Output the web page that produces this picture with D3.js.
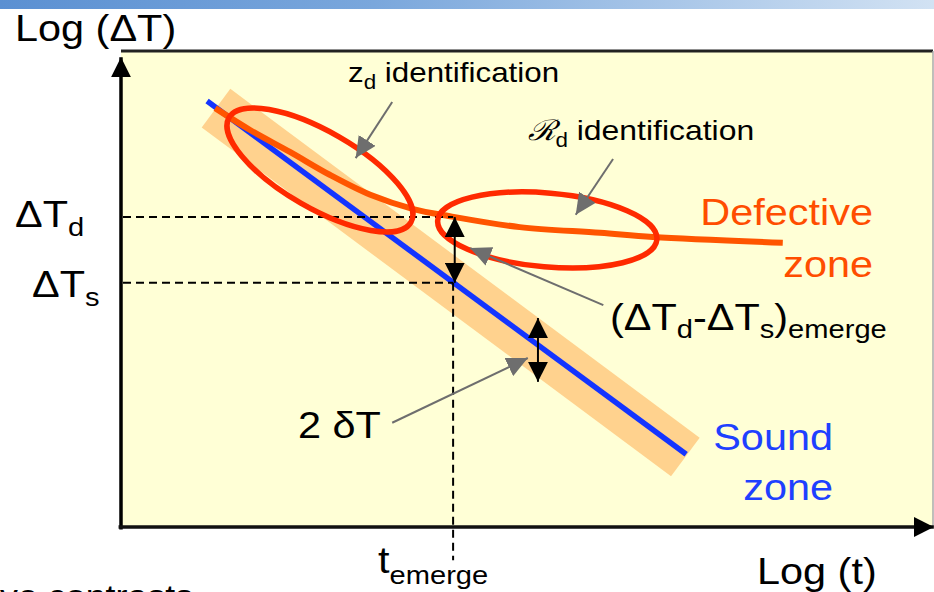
<!DOCTYPE html>
<html lang="en">
<head>
<meta charset="UTF-8">
<title>Emergence time diagram</title>
<style>
  body { margin: 0; background: #fff; }
  svg { display: block; font-family: "Liberation Sans", Arial, sans-serif; }
</style>
</head>
<body>
<div id="chart"></div>
<script src="https://d3js.org/d3.v7.min.js"></script>
<script>
// chart units: x = log(t), y = log(ΔT), arbitrary 0..10 on both
const soundLine = [[1.06, 8.95], [6.96, 1.53]];
const toleranceBand = [[1.17, 8.80], [6.95, 1.47]];
const defectCurve = [
  [1.16, 8.80], [1.59, 8.34], [2.08, 7.88], [2.57, 7.40], [3.07, 6.98], [3.60, 6.68],
  [4.05, 6.53], [4.91, 6.30], [5.90, 6.18], [6.55, 6.09], [8.15, 5.97]
];
// identification ellipses: centre, end of major axis, minor/major ratio
const ellipseCentres = [[2.45, 7.50], [5.25, 6.24]];
const ellipseEnds = [[3.57, 6.40], [6.60, 6.04]];
const ellipseRatios = [0.365, 0.336];
const levelValues = [6.51, 5.13];   // ΔT_d, ΔT_s
const tEmerge = 4.09;
const bandArrow = [[5.135, 4.39], [5.135, 3.05]];
// grey callouts: [from, to]
const callouts = [
  [[3.34, 8.93], [2.89, 7.75]],
  [[6.06, 7.73], [5.60, 6.56]],
  [[5.94, 4.66], [4.30, 5.86]],
  [[3.34, 2.19], [5.01, 3.55]]
];
const labelTexts = [
  "Log (ΔT)", "ΔT_{d}", "ΔT_{s}", "z_{d} identification", "ℛ_{d} identification",
  "Defective", "zone", "(ΔT_{d}-ΔT_{s})_{emerge}", "2 δT", "Sound", "zone",
  "t_{emerge}", "Log (t)", "ve contrasts"
];

const width = 934, height = 592;
const x = d3.scaleLinear().domain([0, 10]).range([121, 933]);
const y = d3.scaleLinear().domain([0, 10]).range([527, 51]);
const line = d3.line().x(d => x(d[0])).y(d => y(d[1]));

const svg = d3.select("#chart").append("svg")
  .attr("width", width)
  .attr("height", height)
  .attr("viewBox", [0, 0, width, height]);

const defs = svg.append("defs");
const head = defs.append("linearGradient").attr("id", "head");
head.append("stop").attr("offset", "0%").attr("stop-color", "#5b90d2");
head.append("stop").attr("offset", "40%").attr("stop-color", "#7aa7dc");
head.append("stop").attr("offset", "100%").attr("stop-color", "#d2e2f3");

function marker(id, color, len, half) {
  defs.append("marker")
    .attr("id", id)
    .attr("viewBox", `0 ${-half} ${len} ${half * 2}`)
    .attr("refX", len).attr("refY", 0)
    .attr("markerUnits", "userSpaceOnUse")
    .attr("markerWidth", len).attr("markerHeight", half * 2)
    .attr("orient", "auto-start-reverse")
    .append("path")
    .attr("d", `M0,${-half}L${len},0L0,${half}Z`)
    .attr("fill", color);
}
marker("blk", "#000", 20, 10);
marker("gry", "#6e6e6e", 21, 10);

// slide header strip
svg.append("rect").attr("width", width).attr("height", 9).attr("fill", "url(#head)");

// plot area
svg.append("rect")
  .attr("x", x(0)).attr("y", y(10))
  .attr("width", x(10) - x(0)).attr("height", y(0) - y(10))
  .attr("fill", "#ffffd6");
svg.append("line")
  .attr("x1", x(0)).attr("x2", x(10)).attr("y1", y(10)).attr("y2", y(10))
  .attr("stroke", "#222").attr("stroke-width", 3);
svg.append("line")
  .attr("x1", x(10)).attr("x2", x(10)).attr("y1", y(10)).attr("y2", y(0))
  .attr("stroke", "#aaa").attr("stroke-width", 1.5);

// tolerance band and sound line
svg.append("path").datum(toleranceBand).attr("d", line)
  .attr("stroke", "#ffd28e").attr("stroke-width", 48).attr("fill", "none");
svg.append("path").datum(soundLine).attr("d", line)
  .attr("stroke", "#1434ff").attr("stroke-width", 5.5).attr("fill", "none");

// defective curve
svg.append("path").datum(defectCurve)
  .attr("d", line.curve(d3.curveCatmullRom))
  .attr("stroke", "#ff5500").attr("stroke-width", 6).attr("fill", "none");

// dashed guide lines
const dash = svg.append("g").attr("stroke", "#000").attr("stroke-width", 2).attr("stroke-dasharray", "8,5");
dash.selectAll("line.h").data(levelValues).join("line")
  .attr("x1", x(0) + 2).attr("x2", x(tEmerge))
  .attr("y1", d => y(d)).attr("y2", d => y(d));
dash.append("line")
  .attr("x1", x(tEmerge)).attr("x2", x(tEmerge))
  .attr("y1", y(levelValues[1])).attr("y2", y(-0.7));

// ellipses
svg.append("g").selectAll("ellipse").data(ellipseCentres).join("ellipse")
  .each(function (c, i) {
    const cx = x(c[0]), cy = y(c[1]);
    const ex = x(ellipseEnds[i][0]), ey = y(ellipseEnds[i][1]);
    const rx = Math.hypot(ex - cx, ey - cy);
    const ang = Math.atan2(ey - cy, ex - cx) * 180 / Math.PI;
    d3.select(this)
      .attr("rx", rx).attr("ry", rx * ellipseRatios[i])
      .attr("transform", `translate(${cx},${cy}) rotate(${ang})`);
  })
  .attr("fill", "none").attr("stroke", "#ff2a00").attr("stroke-width", 5.5);

// double arrows
const arrows = [[[tEmerge + 0.02, levelValues[0]], [tEmerge + 0.02, levelValues[1]]], bandArrow];
svg.append("g").selectAll("path").data(arrows).join("path")
  .attr("d", line.curve(d3.curveLinear))
  .attr("stroke", "#000").attr("stroke-width", 2)
  .attr("marker-start", "url(#blk)").attr("marker-end", "url(#blk)");

// grey callouts
svg.append("g").selectAll("path").data(callouts).join("path")
  .attr("d", line)
  .attr("stroke", "#6e6e6e").attr("stroke-width", 2).attr("fill", "none")
  .attr("marker-end", "url(#gry)");

// axes
svg.append("line")
  .attr("x1", x(0)).attr("x2", x(0)).attr("y1", y(-0.05)).attr("y2", y(9.87))
  .attr("stroke", "#000").attr("stroke-width", 3.5).attr("marker-end", "url(#blk)");
svg.append("line")
  .attr("x1", x(-0.03)).attr("x2", x(10.01)).attr("y1", y(0)).attr("y2", y(0))
  .attr("stroke", "#111").attr("stroke-width", 3.5).attr("marker-end", "url(#blk)");

// labels
function label(str, px, py, o) {
  const size = o.size || 37, sub = Math.round(size * 0.7), shift = o.shift || 9;
  const t = svg.append("g")
    .attr("transform", `translate(${px},${py}) scale(1.12,1)`)
    .append("text")
    .attr("text-anchor", o.anchor || "start")
    .attr("fill", o.color || "#000")
    .attr("font-size", size);
  let cur = 0;
  str.split(/(_\{[^}]*\})/).filter(s => s).forEach(s => {
    if (s.startsWith("_{")) {
      t.append("tspan").attr("font-size", sub).attr("dy", shift - cur).text(s.slice(2, -1));
      cur = shift;
    } else {
      const ts = t.append("tspan").attr("dy", -cur).text(s);
      if (s === "ℛ") ts.attr("font-family", "DejaVu Serif").attr("font-style", "italic").attr("font-weight", 300);
      cur = 0;
    }
  });
}
const L = labelTexts;
label(L[0], 15, 41, {});
label(L[1], 15, 227, {});
label(L[2], 32, 297, {});
label(L[3], 348, 82, { size: 28, shift: 7 });
label(L[4], 528, 140, { size: 28.5, shift: 7 });
label(L[5], 873, 225, { anchor: "end", color: "#ff4d00" });
label(L[6], 873, 277, { anchor: "end", color: "#ff4d00" });
label(L[7], 610, 330, { shift: 8 });
label(L[8], 298, 438, {});
label(L[9], 833, 450, { anchor: "end", color: "#1e40ff" });
label(L[10], 833, 500, { anchor: "end", color: "#1e40ff" });
label(L[11], 378, 573, { shift: 11 });
label(L[12], 757, 584, {});
label(L[13], 0, 607, { size: 32 });
</script>
</body>
</html>
